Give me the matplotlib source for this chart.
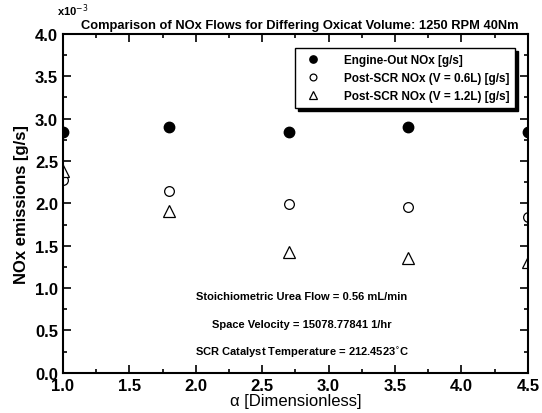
import numpy as np
import matplotlib
matplotlib.use('Agg')
import matplotlib.pyplot as plt
from matplotlib.ticker import MultipleLocator, FormatStrFormatter

plt.rcParams['font.family'] = ['Liberation Sans', 'DejaVu Sans']

# data (NOx in units of 1e-3 g/s)
alpha = [1.0, 1.8, 2.7, 3.6, 4.5]
engine_out = [2.84, 2.90, 2.84, 2.90, 2.84]
post_scr_06 = [2.27, 2.15, 1.99, 1.96, 1.84]
post_scr_12 = [2.38, 1.91, 1.42, 1.36, 1.31]

notes = ['Stoichiometric Urea Flow = 0.56 mL/min',
         'Space Velocity = 15078.77841 1/hr',
         'SCR Catalyst Temperature = 212.4523$^{\\circ}$C']

fig = plt.figure(figsize=(5.42, 4.14), dpi=100)
ax = fig.add_axes([0.116, 0.097, 0.858, 0.819])

ax.plot(alpha, engine_out, 'o', color='black', markersize=7.5,
        label='Engine-Out NOx [g/s]')
ax.plot(alpha, post_scr_06, 'o', mfc='white', mec='black', mew=0.9,
        markersize=7, label='Post-SCR NOx (V = 0.6L) [g/s]')
ax.plot(alpha, post_scr_12, '^', mfc='white', mec='black', mew=0.9,
        markersize=8, label='Post-SCR NOx (V = 1.2L) [g/s]')

ax.set_xlim(1.0, 4.5)
ax.set_ylim(0.0, 4.0)
ax.xaxis.set_major_locator(MultipleLocator(0.5))
ax.xaxis.set_minor_locator(MultipleLocator(0.25))
ax.yaxis.set_major_locator(MultipleLocator(0.5))
ax.yaxis.set_minor_locator(MultipleLocator(0.25))
ax.xaxis.set_major_formatter(FormatStrFormatter('%.1f'))
ax.yaxis.set_major_formatter(FormatStrFormatter('%.1f'))
ax.tick_params(which='both', direction='in', top=True, right=True,
               width=1.2, labelsize=12)
ax.tick_params(which='major', length=6)
ax.tick_params(which='minor', length=3)
for lab in ax.get_xticklabels() + ax.get_yticklabels():
    lab.set_fontweight('bold')
for sp in ax.spines.values():
    sp.set_linewidth(1.5)

ax.set_xlabel('α [Dimensionless]', fontsize=12, labelpad=0)
ax.set_ylabel('NOx emissions [g/s]', fontsize=12, fontweight='bold', labelpad=4)
ax.set_title('Comparison of NOx Flows for Differing Oxicat Volume: 1250 RPM 40Nm',
             fontsize=9.3, fontweight='bold', pad=4, x=0.51)
fig.text(0.105, 0.962, r'x10$^{-3}$', fontsize=8, fontweight='bold')

for yv, txt in zip([0.91, 0.58, 0.25], notes):
    ax.text(2.8, yv, txt, ha='center', va='center', fontsize=8,
            fontweight='bold')

leg = ax.legend(loc='upper right', bbox_to_anchor=(0.985, 0.975),
                prop={'size': 8.5, 'weight': 'bold'}, fancybox=False,
                shadow={'color': 'black', 'alpha': 1}, edgecolor='black',
                borderpad=0.5, labelspacing=0.5, handletextpad=1.6,
                markerscale=0.7)
leg.get_frame().set_linewidth(1.0)

fig.savefig('out.png', dpi=100)
